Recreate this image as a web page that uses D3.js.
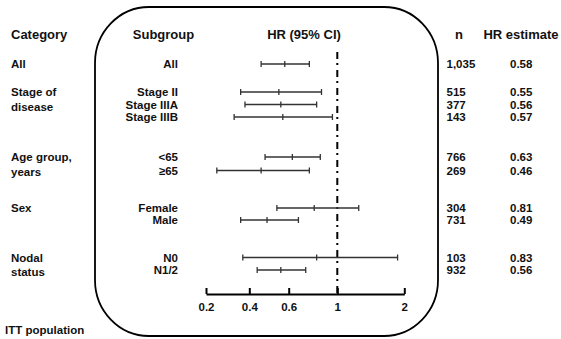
<!DOCTYPE html>
<html>
<head>
<meta charset="utf-8">
<script src="https://cdn.jsdelivr.net/npm/d3@7/dist/d3.min.js"></script>
<style>
  body { margin: 0; background: #fff; }
  svg text { font-family: "Liberation Sans", Arial, sans-serif; font-weight: bold; fill: #111; }
</style>
</head>
<body>
<svg id="chart" width="561" height="339"></svg>
<script>
var
  categories = [
    {lines: ['All'], row: 0},
    {lines: ['Stage of', 'disease'], row: 1},
    {lines: ['Age group,', 'years'], row: 4},
    {lines: ['Sex'], row: 6},
    {lines: ['Nodal', 'status'], row: 8}
  ],
  subgroups = ['All', 'Stage II', 'Stage IIIA', 'Stage IIIB', '<65', '\u226565', 'Female', 'Male', 'N0', 'N1/2'],
  rowY = [64, 92, 104.5, 117, 157, 170.5, 208, 220, 257.5, 270],
  hr = [0.58, 0.55, 0.56, 0.57, 0.63, 0.46, 0.81, 0.49, 0.83, 0.56],
  ciLow = [0.46, 0.36, 0.38, 0.33, 0.48, 0.25, 0.54, 0.36, 0.37, 0.44],
  ciHigh = [0.77, 0.87, 0.83, 0.96, 0.86, 0.77, 1.32, 0.68, 1.90, 0.74],
  nValues = ['1,035', '515', '377', '143', '766', '269', '304', '731', '103', '932'],
  hrLabels = ['0.58', '0.55', '0.56', '0.57', '0.63', '0.46', '0.81', '0.49', '0.83', '0.56'],
  axisTicks = [0.2, 0.4, 0.6, 1, 2]
  ;

var
  svg = d3.select('#chart'),
  axisY = 294,
  // the published axis is not evenly spaced, so use a piecewise scale through its ticks
  xScale = d3.scaleLinear()
    .domain(axisTicks)
    .range([206, 249.3, 288.7, 337.3, 404.3])
  ;

// rounded frame
svg.append('rect')
  .attr('x', 95).attr('y', 7)
  .attr('width', 343).attr('height', 329)
  .attr('rx', 54).attr('ry', 56)
  .attr('fill', 'none')
  .attr('stroke', '#000')
  .attr('stroke-width', 1.8);

// headers
var head = svg.append('g').attr('font-size', 13);
head.append('text').attr('x', 11).attr('y', 39).text('Category');
head.append('text').attr('x', 163.5).attr('y', 39).attr('text-anchor', 'middle').text('Subgroup');
head.append('text').attr('x', 304).attr('y', 39).attr('text-anchor', 'middle').text('HR (95% CI)');
head.append('text').attr('x', 459).attr('y', 39).attr('text-anchor', 'middle').text('n');
head.append('text').attr('x', 521).attr('y', 39).attr('text-anchor', 'middle').text('HR estimate');

// category labels
var cat = svg.append('g').attr('font-size', 11.5);
categories.forEach(function(c){
  c.lines.forEach(function(l, j){
    cat.append('text')
      .attr('x', 11)
      .attr('y', rowY[c.row] + 4 + j * 14.5)
      .text(l);
  });
});

// subgroup, n and HR columns
var cols = svg.append('g').attr('font-size', 11.5);
cols.selectAll('.sub').data(subgroups).enter().append('text')
  .attr('x', 178).attr('y', function(d, i){ return rowY[i] + 4; })
  .attr('text-anchor', 'end')
  .text(function(d){ return d; });
cols.selectAll('.n').data(nValues).enter().append('text')
  .attr('x', 446.5).attr('y', function(d, i){ return rowY[i] + 4; })
  .text(function(d){ return d; });
cols.selectAll('.hr').data(hrLabels).enter().append('text')
  .attr('x', 510).attr('y', function(d, i){ return rowY[i] + 4; })
  .text(function(d){ return d; });

// reference line at HR = 1
svg.append('line')
  .attr('x1', xScale(1)).attr('x2', xScale(1))
  .attr('y1', 52).attr('y2', axisY)
  .attr('stroke', '#000')
  .attr('stroke-width', 2)
  .attr('stroke-dasharray', '7,4,2,5');

// confidence intervals
var ci = svg.append('g')
  .attr('stroke', '#333')
  .attr('stroke-width', 1.3);
hr.forEach(function(h, i){
  var y = rowY[i];
  ci.append('line')
    .attr('x1', xScale(ciLow[i])).attr('x2', xScale(ciHigh[i]))
    .attr('y1', y).attr('y2', y);
  [ciLow[i], h, ciHigh[i]].forEach(function(v){
    ci.append('line')
      .attr('x1', xScale(v)).attr('x2', xScale(v))
      .attr('y1', y - 3).attr('y2', y + 3);
  });
});

// x axis
var ax = svg.append('g')
  .attr('transform', 'translate(0,' + axisY + ')')
  .call(d3.axisBottom(xScale)
    .tickValues(axisTicks)
    .tickFormat(function(d){ return String(d); })
    .tickSizeInner(-6)
    .tickSizeOuter(0)
    .tickPadding(9));
ax.select('.domain').attr('stroke', '#000').attr('stroke-width', 2);
ax.selectAll('.tick line').attr('stroke', '#000').attr('stroke-width', 2);
ax.selectAll('.tick text')
  .attr('font-size', 11.5)
  .attr('font-family', '"Liberation Sans", Arial, sans-serif')
  .attr('font-weight', 'bold')
  .attr('fill', '#111');

svg.append('text')
  .attr('x', 5).attr('y', 334)
  .attr('font-size', 11.5)
  .text('ITT population');
</script>
</body>
</html>
